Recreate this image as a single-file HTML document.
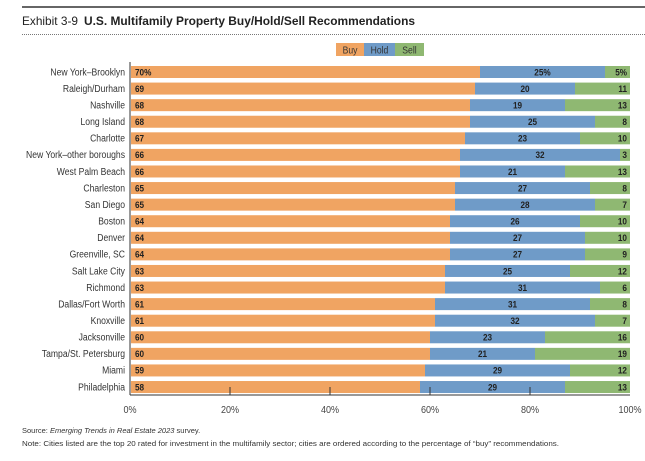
<!DOCTYPE html>
<html><head><meta charset="utf-8"><style>
html,body{margin:0;padding:0;background:#fff;}
body{width:645px;height:456px;overflow:hidden;position:relative;font-family:"Liberation Sans",sans-serif;}
</style></head><body>
<svg width="645" height="456" xmlns="http://www.w3.org/2000/svg" font-family="Liberation Sans, sans-serif">
<line x1="22" y1="7" x2="645" y2="7" stroke="#333" stroke-width="1.5"/>
<text x="22" y="25" font-size="12" fill="#222" textLength="56" lengthAdjust="spacingAndGlyphs">Exhibit 3-9</text>
<text x="84" y="25" font-size="11.5" font-weight="bold" fill="#222" textLength="331" lengthAdjust="spacingAndGlyphs">U.S. Multifamily Property Buy/Hold/Sell Recommendations</text>
<line x1="22" y1="34.5" x2="645" y2="34.5" stroke="#777" stroke-width="1" stroke-dasharray="1,1"/>
<g>
<rect x="336" y="43" width="28" height="13" fill="#F0A462"/>
<rect x="364" y="43" width="31" height="13" fill="#6F9BC8"/>
<rect x="395" y="43" width="29" height="13" fill="#8FB872"/>
<text class="cond" x="350" y="53.5" font-size="10" text-anchor="middle" fill="#333">Buy</text>
<text class="cond" x="379.5" y="53.5" font-size="10" text-anchor="middle" fill="#333">Hold</text>
<text class="cond" x="409.5" y="53.5" font-size="10" text-anchor="middle" fill="#333">Sell</text>
</g>
<g id="bars"></g>
<g id="axis"></g>
<text x="22" y="433" font-size="7.5" fill="#333">Source: <tspan font-style="italic">Emerging Trends in Real Estate 2023</tspan> survey.</text>
<text x="22" y="446" font-size="7.5" fill="#333" textLength="537" lengthAdjust="spacingAndGlyphs">Note: Cities listed are the top 20 rated for investment in the multifamily sector; cities are ordered according to the percentage of “buy” recommendations.</text>
</svg>
<script>
const cities=["New York–Brooklyn","Raleigh/Durham","Nashville","Long Island","Charlotte","New York–other boroughs","West Palm Beach","Charleston","San Diego","Boston","Denver","Greenville, SC","Salt Lake City","Richmond","Dallas/Fort Worth","Knoxville","Jacksonville","Tampa/St. Petersburg","Miami","Philadelphia"];
const buy=[70,69,68,68,67,66,66,65,65,64,64,64,63,63,61,61,60,60,59,58];
const hold=[25,20,19,25,23,32,21,27,28,26,27,27,25,31,31,32,23,21,29,29];
const sell=[5,11,13,8,10,3,13,8,7,10,10,9,12,6,8,7,16,19,12,13];
const ticks=[0,20,40,60,80,100];
const NS="http://www.w3.org/2000/svg";
const x0=130,x1=630,y0=66,pitch=16.58,bh=12;
const xs=v=>x0+(x1-x0)*v/100;
const ys=i=>y0+i*pitch;
function mk(tag,attrs,parent){const e=document.createElementNS(NS,tag);for(const k in attrs)e.setAttribute(k,attrs[k]);parent.appendChild(e);return e;}
const g=document.getElementById('bars');
cities.forEach((c,i)=>{
  const y=ys(i),cy=y+bh/2+3.3;
  const lab=mk('text',{x:125,y:cy,'font-size':10,'text-anchor':'end',fill:'#333','class':'cond'},g);lab.textContent=c;
  
  
  const b=mk('rect',{x:xs(0)+1,y:y,width:xs(buy[i])-xs(0)-1,height:bh,fill:'#F0A462'},g);
  
  
  const hEnd=Math.min(100,buy[i]+hold[i]);
  const h=mk('rect',{x:xs(buy[i]),y:y,width:xs(hEnd)-xs(buy[i]),height:bh,fill:'#6F9BC8'},g);
  
  
  const s=mk('rect',{x:xs(hEnd),y:y,width:xs(100)-xs(hEnd),height:bh,fill:'#8FB872'},g);
  
  
  const suf=i===0?'%':'';
  const t1=mk('text',{x:xs(0)+5,y:cy,'font-size':9.5,'font-weight':'bold',fill:'#222','class':'cond'},g);t1.textContent=buy[i]+suf;
  
  
  const t2=mk('text',{x:(xs(buy[i])+xs(hEnd))/2,y:cy,'font-size':9.5,'font-weight':'bold','text-anchor':'middle',fill:'#222','class':'cond'},g);t2.textContent=hold[i]+suf;
  
  
  const t3=mk('text',{x:xs(100)-3,y:cy,'font-size':9.5,'font-weight':'bold','text-anchor':'end',fill:'#222','class':'cond'},g);t3.textContent=sell[i]+suf;
  
  
});
const a=document.getElementById('axis');
const yl=mk('line',{x1:x0,y1:62,x2:x0,y2:395,stroke:'#333','stroke-width':1},a);


const xl=mk('line',{x1:x0,y1:395,x2:x1,y2:395,stroke:'#333','stroke-width':1},a);


ticks.forEach(t=>{
  if(t>0&&t<100){
    const tk=mk('line',{x1:xs(t),y1:387,x2:xs(t),y2:395,stroke:'#333','stroke-width':1},a);
    
    
  }
  const tl=mk('text',{x:xs(t),y:413,'font-size':10.5,'text-anchor':'middle',fill:'#444','class':'cond'},a);tl.textContent=t+'%';
  
  
});
document.querySelectorAll('text.cond').forEach(t=>{
  const w=t.getComputedTextLength();
  if(w>0){t.setAttribute('textLength',(w*0.86).toFixed(1));t.setAttribute('lengthAdjust','spacingAndGlyphs');}
});
</script>
</body></html>
